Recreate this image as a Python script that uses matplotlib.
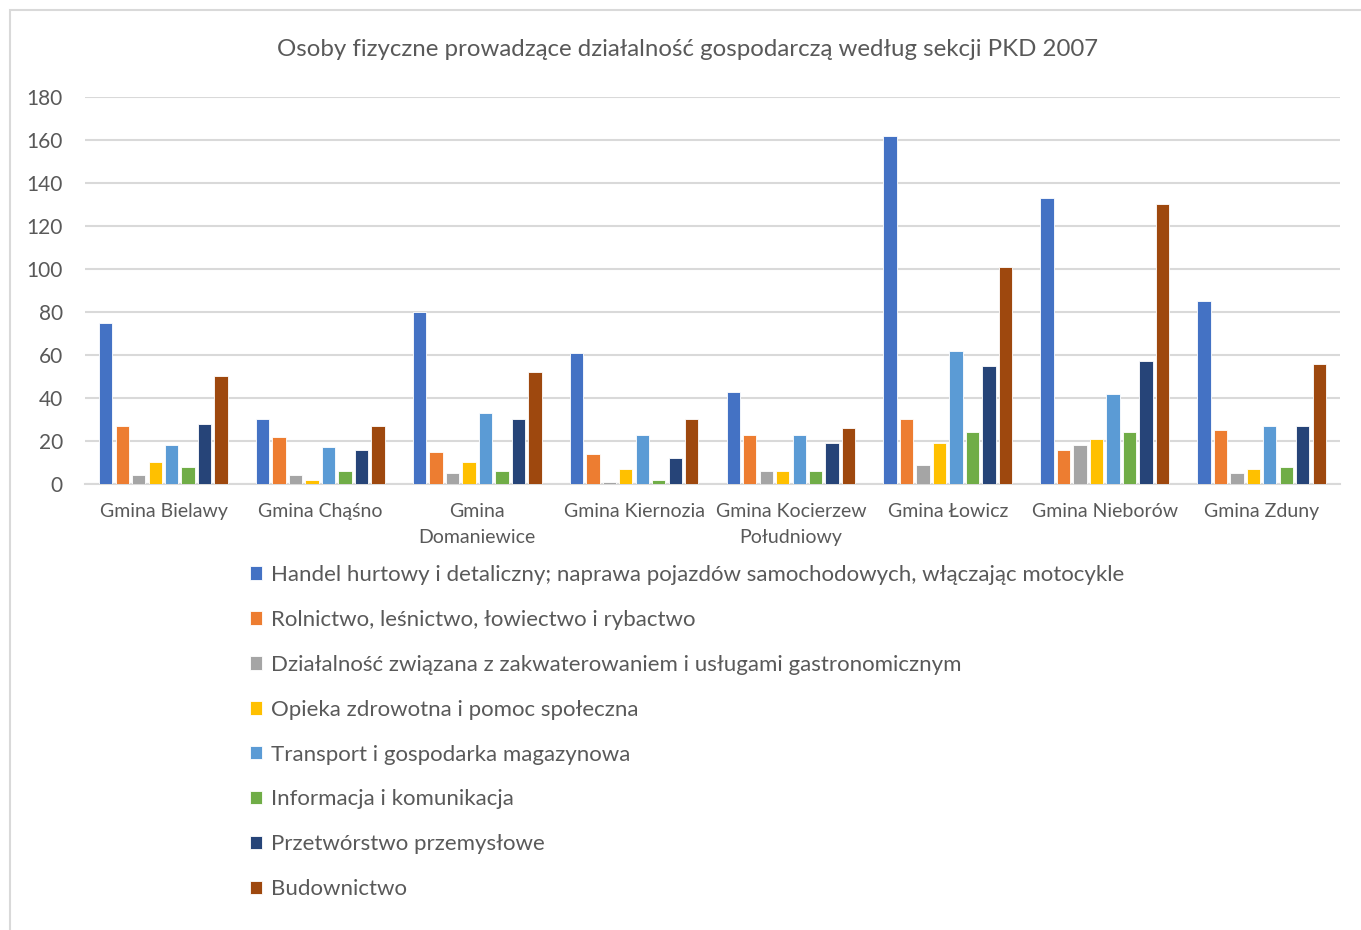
import matplotlib
matplotlib.use("Agg")
from matplotlib import pyplot as plt
from matplotlib.patches import Rectangle
import numpy as np

plt.rcParams['font.family'] = ['Lato', 'DejaVu Sans']

gminy = ["Gmina Bielawy", "Gmina Chąśno", "Gmina\nDomaniewice", "Gmina Kiernozia",
         "Gmina Kocierzew\nPołudniowy", "Gmina Łowicz", "Gmina Nieborów", "Gmina Zduny"]

sekcje = ["Handel hurtowy i detaliczny; naprawa pojazdów samochodowych, włączając motocykle",
          "Rolnictwo, leśnictwo, łowiectwo i rybactwo",
          "Działalność związana z zakwaterowaniem i usługami gastronomicznym",
          "Opieka zdrowotna i pomoc społeczna",
          "Transport i gospodarka magazynowa",
          "Informacja i komunikacja",
          "Przetwórstwo przemysłowe",
          "Budownictwo"]

handel = [75, 30, 80, 61, 43, 162, 133, 85]
rolnictwo = [27, 22, 15, 14, 23, 30, 16, 25]
zakwaterowanie = [4, 4, 5, 1, 6, 9, 18, 5]
opieka = [10, 2, 10, 7, 6, 19, 21, 7]
transport = [18, 17, 33, 23, 23, 62, 42, 27]
informacja = [8, 6, 6, 2, 6, 24, 24, 8]
przetworstwo = [28, 16, 30, 12, 19, 55, 57, 27]
budownictwo = [50, 27, 52, 30, 26, 101, 130, 56]

serie = [handel, rolnictwo, zakwaterowanie, opieka, transport, informacja, przetworstwo, budownictwo]
kolory = ["#4472C4", "#ED7D31", "#A5A5A5", "#FFC000", "#5B9BD5", "#70AD47", "#264478", "#9E480E"]

fig = plt.figure(figsize=(13.61, 9.30), dpi=100)
ax = fig.add_axes([85 / 1361, 1 - 484 / 930, 1255 / 1361, 387 / 930])

x = np.arange(len(gminy))
step = 0.105
width = 0.085
for i, (vals, kolor, nazwa) in enumerate(zip(serie, kolory, sekcje)):
    ax.bar(x + (i - 3.5) * step, vals, width, color=kolor, label=nazwa,
           edgecolor="white", linewidth=0.6, zorder=3)

ax.set_xlim(-0.5, len(gminy) - 0.5)
ax.set_ylim(0, 180)
ax.set_yticks(range(0, 181, 20))
ax.yaxis.grid(True, color="#D9D9D9", linewidth=1.5, zorder=0)
for s in ["top", "right", "left"]:
    ax.spines[s].set_visible(False)
ax.spines["bottom"].set_color("#D9D9D9")
ax.spines["bottom"].set_linewidth(1.5)
ax.set_xticks(x)
ax.set_xticklabels(gminy, fontsize=14, color="#595959", linespacing=1.6)
ax.tick_params(axis="both", length=0, colors="#595959")
ax.tick_params(axis="y", labelsize=15)
ax.tick_params(axis="x", pad=14)
ax.tick_params(axis="y", pad=16)

fig.text(688 / 1361, 1 - 50 / 930, "Osoby fizyczne prowadzące działalność gospodarczą według sekcji PKD 2007",
         ha="center", va="center", fontsize=17.3, color="#595959")

fig.legend(loc="upper left", bbox_to_anchor=(230 / 1361, 1 - 545 / 930), ncol=1, frameon=False,
           fontsize=16, labelcolor="#595959", handlelength=0.55, handleheight=0.55,
           handletextpad=0.4, labelspacing=1.12)

fig.patches.append(Rectangle((10 / 1361, -0.1), 1.2, 1.1 - 10 / 930, transform=fig.transFigure,
                             fill=False, edgecolor="#D9D9D9", linewidth=1.5))

fig.savefig("out.png", dpi=100)
